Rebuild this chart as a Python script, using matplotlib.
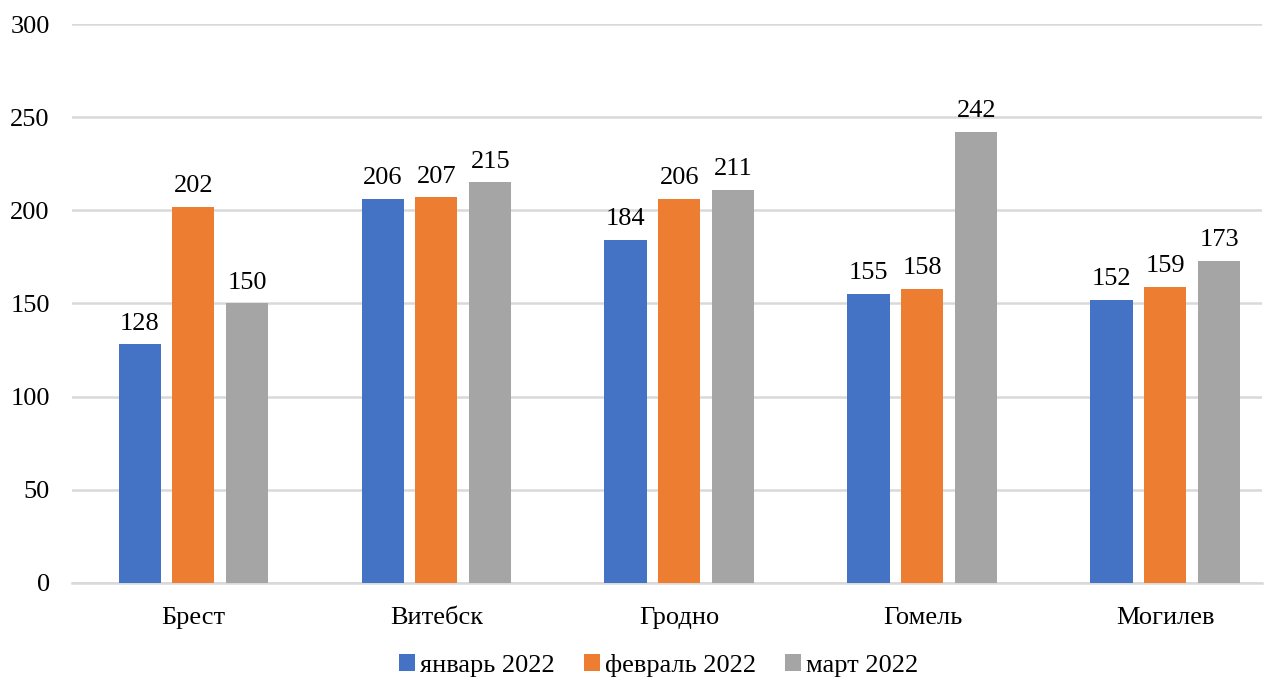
import matplotlib.pyplot as plt
import numpy as np

plt.rcParams["font.family"] = ["Liberation Serif", "DejaVu Serif"]

regions = ["Брест", "Витебск", "Гродно", "Гомель", "Могилев"]
jan = [128, 206, 184, 155, 152]
feb = [202, 207, 206, 158, 159]
mar = [150, 215, 211, 242, 173]
series_names = ["январь 2022", "февраль 2022", "март 2022"]
colors = ["#4472c4", "#ed7d31", "#a5a5a5"]

fig = plt.figure(figsize=(12.74, 6.82), dpi=100)
ax = fig.add_axes([0.0565, 0.1452, 0.934, 0.8196])

x = np.arange(len(regions))
step = 0.222
width = 0.173
for k, (vals, name, col) in enumerate(zip([jan, feb, mar], series_names, colors)):
    bars = ax.bar(x + (k - 1) * step, vals, width, color=col, label=name, zorder=3)
    ax.bar_label(bars, padding=7, fontsize=19)

ax.set_xlim(-0.5, 4.397)
ax.set_ylim(0, 300)
ax.set_yticks(range(0, 301, 50))
ax.set_xticks(x)
ax.set_xticklabels(regions)
ax.tick_params(axis="both", length=0, labelsize=19)
ax.tick_params(axis="x", pad=17)
ax.tick_params(axis="y", pad=16)
ax.grid(axis="y", color="#d9d9d9", linewidth=1.8, zorder=0)
for s in ["top", "right", "left"]:
    ax.spines[s].set_visible(False)
ax.spines["bottom"].set_color("#d9d9d9")
ax.spines["bottom"].set_linewidth(1.8)

fig.legend(loc="center", bbox_to_anchor=(0.517, 0.024), ncol=3, frameon=False,
           fontsize=19, handlelength=0.6, handleheight=0.6, handletextpad=0.2,
           columnspacing=1.1, borderpad=0.1)

fig.savefig("out.png", dpi=100)
